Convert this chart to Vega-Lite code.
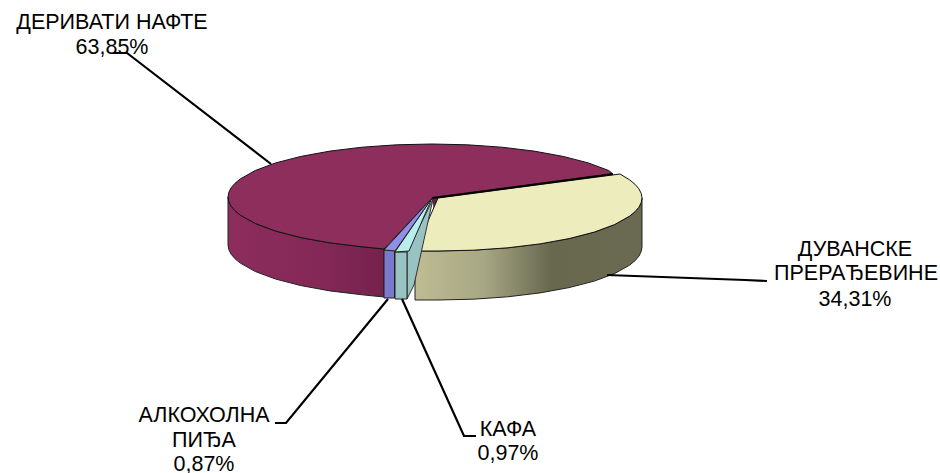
{"$schema":"https://vega.github.io/schema/vega-lite/v6.json","autosize":{"type":"none"},"padding":0,"width":940,"height":473,"background":"white","view":{"stroke":null},
"datasets":{
"bt":[{"i":0,"x":432,"y":198},{"i":1,"x":613,"y":174},{"i":2,"x":608.7,"y":170.5},{"i":3,"x":588.3,"y":162.9},{"i":4,"x":563.1,"y":156.4},{"i":5,"x":534,"y":151.1},{"i":6,"x":501.8,"y":147.2},{"i":7,"x":467.4,"y":144.8},{"i":8,"x":432,"y":144},{"i":9,"x":396.6,"y":144.8},{"i":10,"x":362.2,"y":147.2},{"i":11,"x":330,"y":151.1},{"i":12,"x":300.9,"y":156.4},{"i":13,"x":275.7,"y":162.9},{"i":14,"x":255.3,"y":170.5},{"i":15,"x":240.3,"y":178.9},{"i":16,"x":235,"y":183.3},{"i":17,"x":231.1,"y":187.8},{"i":18,"x":228.8,"y":192.4},{"i":19,"x":228,"y":197},{"i":20,"x":228.8,"y":201.6},{"i":21,"x":231.1,"y":206.2},{"i":22,"x":235,"y":210.7},{"i":23,"x":240.3,"y":215.1},{"i":24,"x":255.3,"y":223.5},{"i":25,"x":275.7,"y":231.1},{"i":26,"x":300.9,"y":237.6},{"i":27,"x":330,"y":242.9},{"i":28,"x":362.2,"y":246.8},{"i":29,"x":384,"y":249},{"i":30,"x":432,"y":198}],
"bs":[{"i":0,"x":228,"y":197},{"i":1,"x":228.8,"y":201.6},{"i":2,"x":231.1,"y":206.2},{"i":3,"x":235,"y":210.7},{"i":4,"x":240.3,"y":215.1},{"i":5,"x":255.3,"y":223.5},{"i":6,"x":275.7,"y":231.1},{"i":7,"x":300.9,"y":237.6},{"i":8,"x":330,"y":242.9},{"i":9,"x":362.2,"y":246.8},{"i":10,"x":384,"y":249},{"i":11,"x":384,"y":297},{"i":12,"x":362.2,"y":294.8},{"i":13,"x":330,"y":290.9},{"i":14,"x":300.9,"y":285.6},{"i":15,"x":275.7,"y":279.1},{"i":16,"x":255.3,"y":271.5},{"i":17,"x":240.3,"y":263.1},{"i":18,"x":235,"y":258.7},{"i":19,"x":231.1,"y":254.2},{"i":20,"x":228.8,"y":249.6},{"i":21,"x":228,"y":245},{"i":22,"x":228,"y":197}],
"bc":[{"i":0,"x":432,"y":198},{"i":1,"x":438,"y":198},{"i":2,"x":434,"y":208},{"i":3,"x":432,"y":198}],
"ys":[{"i":0,"x":415,"y":251},{"i":1,"x":438,"y":251},{"i":2,"x":473.4,"y":250.2},{"i":3,"x":507.8,"y":247.8},{"i":4,"x":540,"y":243.9},{"i":5,"x":569.1,"y":238.6},{"i":6,"x":594.3,"y":232.1},{"i":7,"x":614.7,"y":224.5},{"i":8,"x":629.7,"y":216.1},{"i":9,"x":635,"y":211.7},{"i":10,"x":638.9,"y":207.2},{"i":11,"x":641.2,"y":202.6},{"i":12,"x":642,"y":198},{"i":13,"x":642,"y":247},{"i":14,"x":641.2,"y":251.6},{"i":15,"x":638.9,"y":256.2},{"i":16,"x":635,"y":260.7},{"i":17,"x":629.7,"y":265.1},{"i":18,"x":614.7,"y":273.5},{"i":19,"x":594.3,"y":281.1},{"i":20,"x":569.1,"y":287.6},{"i":21,"x":540,"y":292.9},{"i":22,"x":507.8,"y":296.8},{"i":23,"x":473.4,"y":299.2},{"i":24,"x":438,"y":300},{"i":25,"x":415,"y":300},{"i":26,"x":415,"y":251}],
"yt":[{"i":0,"x":438,"y":198},{"i":1,"x":620,"y":174},{"i":2,"x":629.7,"y":179.9},{"i":3,"x":635,"y":184.3},{"i":4,"x":638.9,"y":188.8},{"i":5,"x":641.2,"y":193.4},{"i":6,"x":642,"y":198},{"i":7,"x":641.2,"y":202.6},{"i":8,"x":638.9,"y":207.2},{"i":9,"x":635,"y":211.7},{"i":10,"x":629.7,"y":216.1},{"i":11,"x":614.7,"y":224.5},{"i":12,"x":594.3,"y":232.1},{"i":13,"x":569.1,"y":238.6},{"i":14,"x":540,"y":243.9},{"i":15,"x":507.8,"y":247.8},{"i":16,"x":473.4,"y":250.2},{"i":17,"x":438,"y":251},{"i":18,"x":415,"y":251},{"i":19,"x":438,"y":198}],
"tealside":[{"i":0,"x":407,"y":252},{"i":1,"x":407,"y":299},{"i":2,"x":414,"y":285},{"i":3,"x":433,"y":199},{"i":4,"x":407,"y":252}],
"tealfront":[{"i":0,"x":395,"y":252},{"i":1,"x":407,"y":252},{"i":2,"x":407,"y":299},{"i":3,"x":395,"y":299},{"i":4,"x":395,"y":252}],
"cyantop":[{"i":0,"x":432,"y":198},{"i":1,"x":395,"y":252},{"i":2,"x":409,"y":251},{"i":3,"x":432,"y":198}],
"bluefront":[{"i":0,"x":384,"y":250},{"i":1,"x":394.5,"y":250},{"i":2,"x":394.5,"y":298},{"i":3,"x":384,"y":298},{"i":4,"x":384,"y":250}],
"bluetop":[{"i":0,"x":432,"y":198},{"i":1,"x":384,"y":250},{"i":2,"x":395,"y":251},{"i":3,"x":432,"y":198}],
"edge":[{"i":0,"x":432,"y":198},{"i":1,"x":613,"y":174}],
"leaders":[{"k":"a","i":0,"x":113,"y":53},{"k":"a","i":1,"x":127,"y":53},{"k":"a","i":2,"x":271,"y":164},{"k":"b","i":0,"x":607,"y":275},{"k":"b","i":1,"x":745,"y":280},{"k":"b","i":2,"x":767,"y":281},{"k":"c","i":0,"x":388,"y":299},{"k":"c","i":1,"x":286,"y":423},{"k":"c","i":2,"x":275,"y":423},{"k":"d","i":0,"x":402,"y":299},{"k":"d","i":1,"x":464,"y":436},{"k":"d","i":2,"x":476,"y":436}],
"labels":[{"x":112,"y":23,"t":"ДЕРИВАТИ НАФТЕ"},{"x":112,"y":48,"t":"63,85%"},{"x":855,"y":250,"t":"ДУВАНСКЕ"},{"x":856,"y":274,"t":"ПРЕРАЂЕВИНЕ"},{"x":855,"y":300,"t":"34,31%"},{"x":204,"y":416,"t":"АЛКОХОЛНА"},{"x":204,"y":441,"t":"ПИЂА"},{"x":204,"y":465,"t":"0,87%"},{"x":508,"y":430,"t":"КАФА"},{"x":508,"y":454,"t":"0,97%"}]
},
"encoding":{"x":{"field":"x","type":"quantitative","scale":{"domain":[0,940],"nice":false,"zero":false},"axis":null},"y":{"field":"y","type":"quantitative","scale":{"domain":[473,0],"nice":false,"zero":false},"axis":null},"order":{"field":"i","type":"quantitative"}},
"layer":[
{"data":{"name":"bs"},"mark":{"type":"line","fill":{"gradient":"linear","x1":0,"y1":0,"x2":1,"y2":0,"stops":[{"offset":0,"color":"#8C2D5C"},{"offset":0.6,"color":"#842858"},{"offset":1,"color":"#75224C"}]},"stroke":"#222222","strokeWidth":1}},
{"data":{"name":"bt"},"mark":{"type":"line","fill":"#8E2E5D","stroke":"#111111","strokeWidth":1}},
{"data":{"name":"bc"},"mark":{"type":"line","fill":"#6E1C48","stroke":"#222222","strokeWidth":0.5}},
{"data":{"name":"ys"},"mark":{"type":"line","fill":{"gradient":"linear","x1":0,"y1":0,"x2":1,"y2":0,"stops":[{"offset":0,"color":"#BDBC92"},{"offset":0.3,"color":"#A8A785"},{"offset":0.6,"color":"#68684F"},{"offset":1,"color":"#6A6A52"}]},"stroke":"#222222","strokeWidth":1}},
{"data":{"name":"yt"},"mark":{"type":"line","fill":"#ECECBC","stroke":"#111111","strokeWidth":1}},
{"data":{"name":"edge"},"mark":{"type":"line","stroke":"#000000","strokeWidth":2}},
{"data":{"name":"tealside"},"mark":{"type":"line","fill":"#99C2C2","stroke":"#333333","strokeWidth":1}},
{"data":{"name":"tealfront"},"mark":{"type":"line","fill":"#99C2C2","stroke":"#222222","strokeWidth":1}},
{"data":{"name":"cyantop"},"mark":{"type":"line","fill":"#B8EEEC","stroke":"#222222","strokeWidth":1}},
{"data":{"name":"bluefront"},"mark":{"type":"line","fill":"#7B79CD","stroke":"#222222","strokeWidth":1}},
{"data":{"name":"bluetop"},"mark":{"type":"line","fill":"#8F8EE8","stroke":"#222222","strokeWidth":1}},
{"data":{"name":"leaders"},"mark":{"type":"line","stroke":"#000000","strokeWidth":2.2},"encoding":{"detail":{"field":"k"}}},
{"data":{"name":"labels"},"mark":{"type":"text","font":"Liberation Sans","fontSize":21.5,"align":"center","baseline":"middle","color":"#000000"},"encoding":{"text":{"field":"t"},"order":{"value":null}}}
]}
